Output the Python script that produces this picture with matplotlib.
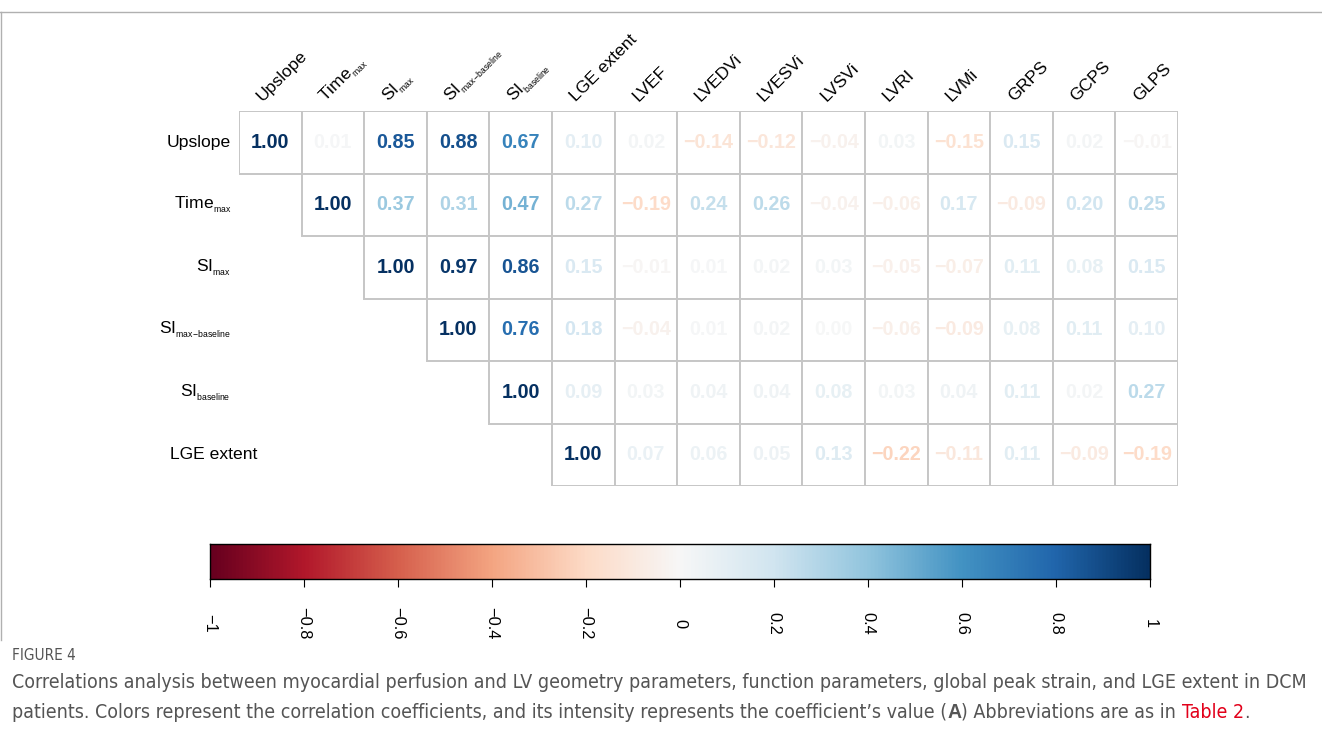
import matplotlib
matplotlib.use("Agg")
import matplotlib.pyplot as plt
from matplotlib.patches import Rectangle
from matplotlib.colors import Normalize
from matplotlib.lines import Line2D
from matplotlib import font_manager
import numpy as np

plt.rcParams['font.family'] = ['Liberation Sans', 'DejaVu Sans']
plt.rcParams['mathtext.fontset'] = 'custom'
plt.rcParams['mathtext.rm'] = 'Liberation Sans'
plt.rcParams['mathtext.it'] = 'Liberation Sans:italic'
plt.rcParams['mathtext.bf'] = 'Liberation Sans:bold'

# variables (rows = perfusion parameters + LGE, cols = all)
row_labels = [
    'Upslope',
    r'Time$_{_{\mathregular{max}}}$',
    r'SI$_{_{\mathregular{max}}}$',
    r'SI$_{_{\mathregular{max\!-\!baseline}}}$',
    r'SI$_{_{\mathregular{baseline}}}$',
    'LGE extent',
]
col_labels = row_labels + ['LVEF', 'LVEDVi', 'LVESVi', 'LVSVi', 'LVRI', 'LVMi', 'GRPS', 'GCPS', 'GLPS']

# correlation values, each row starts at the diagonal
r_upslope = [1.00, 0.01, 0.85, 0.88, 0.67, 0.10, 0.02, -0.14, -0.12, -0.04, 0.03, -0.15, 0.15, 0.02, -0.01]
r_timemax = [1.00, 0.37, 0.31, 0.47, 0.27, -0.19, 0.24, 0.26, -0.04, -0.06, 0.17, -0.09, 0.20, 0.25]
r_simax = [1.00, 0.97, 0.86, 0.15, -0.01, 0.01, 0.02, 0.03, -0.05, -0.07, 0.11, 0.08, 0.15]
r_simaxbase = [1.00, 0.76, 0.18, -0.04, 0.01, 0.02, 0.00, -0.06, -0.09, 0.08, 0.11, 0.10]
r_sibase = [1.00, 0.09, 0.03, 0.04, 0.04, 0.08, 0.03, 0.04, 0.11, 0.02, 0.27]
r_lge = [1.00, 0.07, 0.06, 0.05, 0.13, -0.22, -0.11, 0.11, -0.09, -0.19]
corr_rows = [r_upslope, r_timemax, r_simax, r_simaxbase, r_sibase, r_lge]

cbar_ticks = [-1, -0.8, -0.6, -0.4, -0.2, 0, 0.2, 0.4, 0.6, 0.8, 1]
cbar_ticklabels = ['−1', '−0.8', '−0.6', '−0.4', '−0.2', '0', '0.2', '0.4', '0.6', '0.8', '1']

W, H = 1322, 749
fig = plt.figure(figsize=(W / 100, H / 100), dpi=100)
fig.patch.set_facecolor('white')

cmap = plt.get_cmap('RdBu')
norm = Normalize(-1, 1)

# frame around the chart panel
fig.add_artist(Line2D([0, 1], [1 - 12 / H, 1 - 12 / H], color='#b0b0b0', lw=1.0, transform=fig.transFigure))
fig.add_artist(Line2D([1 / W, 1 / W], [1 - 12 / H, 1 - 640 / H], color='#b0b0b0', lw=1.0, transform=fig.transFigure))

# correlation matrix (upper triangle)
ax = fig.add_axes([239 / W, 1 - 486 / H, 939 / W, 375 / H])
ax.set_xlim(0, len(col_labels))
ax.set_ylim(len(row_labels), 0)
ax.axis('off')

for i, vals in enumerate(corr_rows):
    for k, v in enumerate(vals):
        j = i + k
        ax.add_patch(Rectangle((j, i), 1, 1, facecolor='white', edgecolor='#c6c6c6', lw=1.4))
        txt = f'{v:.2f}'.replace('-', '−')
        ax.text(j + 0.5, i + 0.5, txt, ha='center', va='center', fontsize=14.2,
                fontweight='bold', color=cmap(norm(v)))

# row labels
for i, lab in enumerate(row_labels):
    x = 0.29 if lab == 'LGE extent' else -0.13
    ax.text(x, i + 0.5, lab, ha='right', va='center', fontsize=12.6, clip_on=False)

# column labels
for j, lab in enumerate(col_labels):
    ax.text(j + 0.38, -0.14, lab, ha='left', va='baseline', rotation=45,
            rotation_mode='anchor', fontsize=12.6, clip_on=False)

# colour legend
cax = fig.add_axes([210 / W, 1 - 579 / H, 940 / W, 35 / H])
grad = np.linspace(-1, 1, 512).reshape(1, -1)
cax.imshow(grad, aspect='auto', cmap=cmap, norm=norm, extent=[-1, 1, 0, 1])
cax.set_xlim(-1, 1)
cax.set_yticks([])
cax.set_xticks(cbar_ticks, cbar_ticklabels, rotation=-90, va='center', fontsize=11.8)
cax.tick_params(axis='x', length=6, width=0.8, pad=26)
for s in cax.spines.values():
    s.set_linewidth(1.0)

# caption: use a condensed sans face if one is installed
cap_prop = None
for f in font_manager.fontManager.ttflist:
    nm = f.name.lower()
    if ('condensed' in nm or 'narrow' in nm or f.stretch in ('condensed', 'semi-condensed')) \
            and f.style == 'normal' and f.weight in (400, 'normal', 'regular') and 'mono' not in nm \
            and 'serif' not in nm:
        cap_prop = f.fname
        break

def cap_kw(weight='normal'):
    if cap_prop is None or weight == 'bold':
        return dict(family=['Liberation Sans', 'DejaVu Sans'], fontweight=weight)
    return dict(fontproperties=font_manager.FontProperties(fname=cap_prop))

renderer = fig.canvas.get_renderer()
cap_color = '#555555'
t0 = fig.text(12 / W, 1 - 656 / H, 'FIGURE 4', color=cap_color, va='center', **cap_kw())
t0.set_fontsize(11)

line1 = ('Correlations analysis between myocardial perfusion and LV geometry parameters, '
         'function parameters, global peak strain, and LGE extent in DCM')
t1 = fig.text(12 / W, 1 - 683 / H, line1, color=cap_color, va='center', **cap_kw())
cap_size = 12
for _ in range(3):
    t1.set_fontsize(cap_size)
    bb = t1.get_window_extent(renderer)
    cap_size = cap_size * 1296 / bb.width
t1.set_fontsize(cap_size)

pieces = [
    ('patients. Colors represent the correlation coefficients, and its intensity represents the coefficient\u2019s value (', cap_color, 'normal'),
    ('A', cap_color, 'bold'),
    (') Abbreviations are as in ', cap_color, 'normal'),
    ('Table 2', '#e2001a', 'normal'),
    ('.', cap_color, 'normal'),
]
x = 12
for txt, col, wt in pieces:
    t = fig.text(x / W, 1 - 712 / H, txt, color=col, va='center', **cap_kw(wt))
    t.set_fontsize(cap_size)
    x += t.get_window_extent(renderer).width

fig.savefig('out.png', dpi=100)
